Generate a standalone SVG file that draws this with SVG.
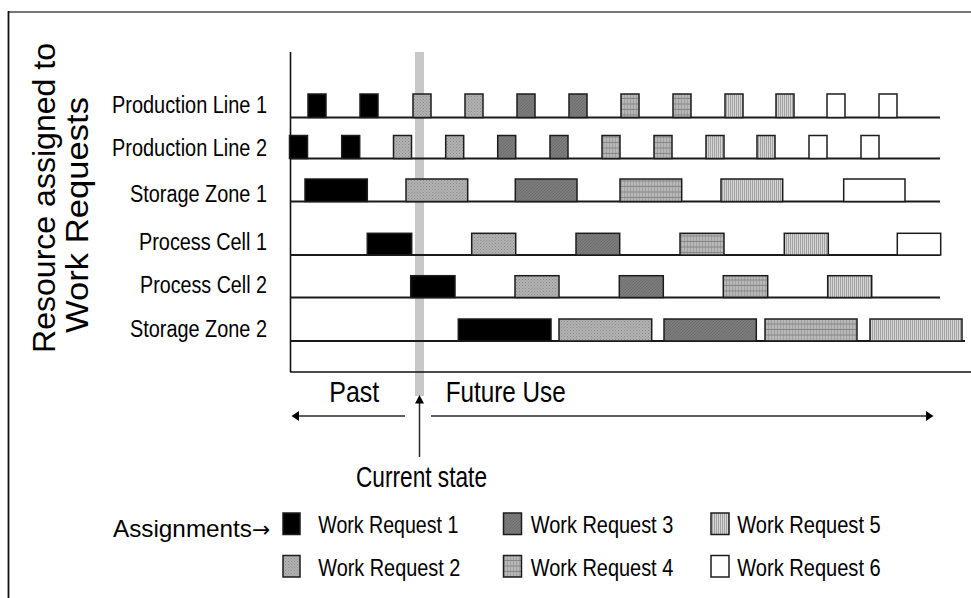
<svg xmlns="http://www.w3.org/2000/svg" width="971" height="598" viewBox="0 0 971 598">
<style>
text{font-family:"Liberation Sans",Arial,sans-serif;fill:#000}
text.arrow{font-family:"DejaVu Sans",sans-serif;font-size:22px}
.lbl{font-size:23px;text-anchor:end}
.leg{font-size:24px}
.big{font-size:29px}
.b{stroke:#1c1c1c;stroke-width:1.5}
.w1{fill:#000}
.w2{fill:url(#p2)}
.w3{fill:url(#p3)}
.w4{fill:url(#p4)}
.w5{fill:url(#p5)}
.w6{fill:#fff}
.row{stroke:#1a1a1a;stroke-width:1.8;fill:none}
.ar{stroke:#2a2a2a;stroke-width:1.5;fill:none}
</style>
<defs>
<pattern id="p2" width="3" height="3" patternUnits="userSpaceOnUse">
<rect width="3" height="3" fill="#b2b2b2"/>
<rect x="0" y="0" width="1" height="1" fill="#8c8c8c"/>
<rect x="1.5" y="1.5" width="1" height="1" fill="#929292"/>
</pattern>
<pattern id="p3" width="3" height="3" patternUnits="userSpaceOnUse">
<rect width="3" height="3" fill="#7c7c7c"/>
<path d="M0,3 L3,0" stroke="#6a6a6a" stroke-width="0.8"/>
</pattern>
<pattern id="p4" width="3" height="5.5" patternUnits="userSpaceOnUse">
<rect width="3" height="5.5" fill="#b8b8b8"/>
<rect x="0" y="0" width="1" height="5.5" fill="#a0a0a0"/>
<rect x="0" y="4.5" width="3" height="1" fill="#858585"/>
</pattern>
<pattern id="p5" width="2" height="2" patternUnits="userSpaceOnUse">
<rect width="2" height="2" fill="#d6d6d6"/>
<rect x="0" y="0" width="1" height="2" fill="#a2a2a2"/>
</pattern>
</defs>
<rect width="971" height="598" fill="#fff"/>
<g id="frame">
<line x1="8" y1="12" x2="971" y2="12" stroke="#777" stroke-width="2"/>
<line x1="8.5" y1="11" x2="8.5" y2="598" stroke="#111" stroke-width="1.8"/>
</g>
<g id="title">
<text font-size="31" text-anchor="middle" transform="translate(55,198) rotate(-90)" textLength="310" lengthAdjust="spacingAndGlyphs">Resource assigned to</text>
<text font-size="31" text-anchor="middle" transform="translate(88,215) rotate(-90)" textLength="236" lengthAdjust="spacingAndGlyphs">Work Requests</text>
</g>
<rect id="current-bar" x="415" y="52" width="9" height="344" fill="#c8c8c8"/>
<g id="axes">
<line x1="290.5" y1="52" x2="290.5" y2="372" stroke="#111" stroke-width="1.6"/>
<line x1="290" y1="372" x2="971" y2="372" stroke="#111" stroke-width="1.6"/>
</g>
<g id="row-production-line-1">
<text class="lbl" x="267" y="113" textLength="155" lengthAdjust="spacingAndGlyphs">Production Line 1</text>
<line class="row" x1="290" y1="117.5" x2="940" y2="117.5"/>
<rect class="b w1" x="308" y="94" width="18" height="23.5"/>
<rect class="b w1" x="360" y="94" width="18" height="23.5"/>
<rect class="b w2" x="413" y="94" width="18" height="23.5"/>
<rect class="b w2" x="465" y="94" width="18" height="23.5"/>
<rect class="b w3" x="517" y="94" width="18" height="23.5"/>
<rect class="b w3" x="569" y="94" width="18" height="23.5"/>
<rect class="b w4" x="621" y="94" width="18" height="23.5"/>
<rect class="b w4" x="673" y="94" width="18" height="23.5"/>
<rect class="b w5" x="725" y="94" width="18" height="23.5"/>
<rect class="b w5" x="776" y="94" width="18" height="23.5"/>
<rect class="b w6" x="827" y="94" width="18" height="23.5"/>
<rect class="b w6" x="879" y="94" width="18" height="23.5"/>
</g>
<g id="row-production-line-2">
<text class="lbl" x="267" y="156" textLength="155" lengthAdjust="spacingAndGlyphs">Production Line 2</text>
<line class="row" x1="290" y1="158.5" x2="940" y2="158.5"/>
<rect class="b w1" x="289.5" y="135.5" width="18" height="23"/>
<rect class="b w1" x="341.7" y="135.5" width="18" height="23"/>
<rect class="b w2" x="393.5" y="135.5" width="18" height="23"/>
<rect class="b w2" x="445.7" y="135.5" width="18" height="23"/>
<rect class="b w3" x="497.7" y="135.5" width="18" height="23"/>
<rect class="b w3" x="550" y="135.5" width="18" height="23"/>
<rect class="b w4" x="602" y="135.5" width="18" height="23"/>
<rect class="b w4" x="654" y="135.5" width="18" height="23"/>
<rect class="b w5" x="706" y="135.5" width="18" height="23"/>
<rect class="b w5" x="757" y="135.5" width="18" height="23"/>
<rect class="b w6" x="809" y="135.5" width="18" height="23"/>
<rect class="b w6" x="861" y="135.5" width="18" height="23"/>
</g>
<g id="row-storage-zone-1">
<text class="lbl" x="267" y="201.5" textLength="137" lengthAdjust="spacingAndGlyphs">Storage Zone 1</text>
<line class="row" x1="290" y1="201.5" x2="940" y2="201.5"/>
<rect class="b w1" x="305" y="179" width="62.3" height="22.5"/>
<rect class="b w2" x="406" y="179" width="61.7" height="22.5"/>
<rect class="b w3" x="515.3" y="179" width="61.7" height="22.5"/>
<rect class="b w4" x="620" y="179" width="61.7" height="22.5"/>
<rect class="b w5" x="721" y="179" width="61.7" height="22.5"/>
<rect class="b w6" x="843.7" y="179" width="61.3" height="22.5"/>
</g>
<g id="row-process-cell-1">
<text class="lbl" x="267" y="250" textLength="128" lengthAdjust="spacingAndGlyphs">Process Cell 1</text>
<line class="row" x1="290" y1="255" x2="940" y2="255"/>
<rect class="b w1" x="367.3" y="233.3" width="44.4" height="21.7"/>
<rect class="b w2" x="471.7" y="233.3" width="44" height="21.7"/>
<rect class="b w3" x="576" y="233.3" width="43.7" height="21.7"/>
<rect class="b w4" x="680" y="233.3" width="44" height="21.7"/>
<rect class="b w5" x="784.3" y="233.3" width="44" height="21.7"/>
<rect class="b w6" x="897.3" y="233.3" width="43.4" height="21.7"/>
</g>
<g id="row-process-cell-2">
<text class="lbl" x="267" y="293" textLength="127" lengthAdjust="spacingAndGlyphs">Process Cell 2</text>
<line class="row" x1="290" y1="297.5" x2="940" y2="297.5"/>
<rect class="b w1" x="410.7" y="275.7" width="44.3" height="21.8"/>
<rect class="b w2" x="515" y="275.7" width="44" height="21.8"/>
<rect class="b w3" x="619.3" y="275.7" width="44" height="21.8"/>
<rect class="b w4" x="723.3" y="275.7" width="44.4" height="21.8"/>
<rect class="b w5" x="827.7" y="275.7" width="44" height="21.8"/>
</g>
<g id="row-storage-zone-2">
<text class="lbl" x="267" y="337" textLength="137" lengthAdjust="spacingAndGlyphs">Storage Zone 2</text>
<line class="row" x1="290" y1="341" x2="965" y2="341"/>
<rect class="b w1" x="458.3" y="319" width="92.7" height="22"/>
<rect class="b w2" x="559" y="319" width="92.7" height="22"/>
<rect class="b w3" x="664" y="319" width="92.3" height="22"/>
<rect class="b w4" x="765" y="319" width="92" height="22"/>
<rect class="b w5" x="870" y="319" width="92" height="22"/>
</g>
<g id="time-labels">
<text class="big" x="329.3" y="401.7" textLength="50" lengthAdjust="spacingAndGlyphs">Past</text>
<text class="big" x="445.7" y="401.7" textLength="120" lengthAdjust="spacingAndGlyphs">Future Use</text>
<text class="big" font-size="28" x="356" y="486.7" textLength="131" lengthAdjust="spacingAndGlyphs">Current state</text>
</g>
<g id="connectors">
<line class="ar" x1="405" y1="416" x2="298" y2="416"/>
<path d="M291.5,416 L299,411 L299,421 Z" fill="#000"/>
<line class="ar" x1="431" y1="416" x2="927" y2="416"/>
<path d="M933.5,416 L926,411 L926,421 Z" fill="#000"/>
<line class="ar" x1="419.5" y1="457" x2="419.5" y2="402"/>
<path d="M419.5,395 L415,403.5 L424,403.5 Z" fill="#000"/>
</g>
<g id="legend">
<text class="leg" x="113" y="537" textLength="139" lengthAdjust="spacingAndGlyphs">Assignments</text>
<text class="arrow" x="252" y="537">→</text>
<g id="legend-wr1"><rect class="b w1" x="283" y="513" width="17" height="21.5"/><text class="leg" x="318.3" y="533.3" textLength="140" lengthAdjust="spacingAndGlyphs">Work Request 1</text></g>
<g id="legend-wr2"><rect class="b w2" x="283" y="555.5" width="17" height="21.5"/><text class="leg" x="318.3" y="575.5" textLength="142" lengthAdjust="spacingAndGlyphs">Work Request 2</text></g>
<g id="legend-wr3"><rect class="b w3" x="503.5" y="513" width="18" height="21.5"/><text class="leg" x="530.7" y="533.3" textLength="142.6" lengthAdjust="spacingAndGlyphs">Work Request 3</text></g>
<g id="legend-wr4"><rect class="b w4" x="503.5" y="555.5" width="18" height="21.5"/><text class="leg" x="530.7" y="575.5" textLength="142.6" lengthAdjust="spacingAndGlyphs">Work Request 4</text></g>
<g id="legend-wr5"><rect class="b w5" x="711" y="513" width="18" height="21.5"/><text class="leg" x="737.3" y="533.3" textLength="143.4" lengthAdjust="spacingAndGlyphs">Work Request 5</text></g>
<g id="legend-wr6"><rect class="b w6" x="711" y="555.5" width="18" height="21.5"/><text class="leg" x="737.3" y="575.5" textLength="143.4" lengthAdjust="spacingAndGlyphs">Work Request 6</text></g>
</g>
</svg>
